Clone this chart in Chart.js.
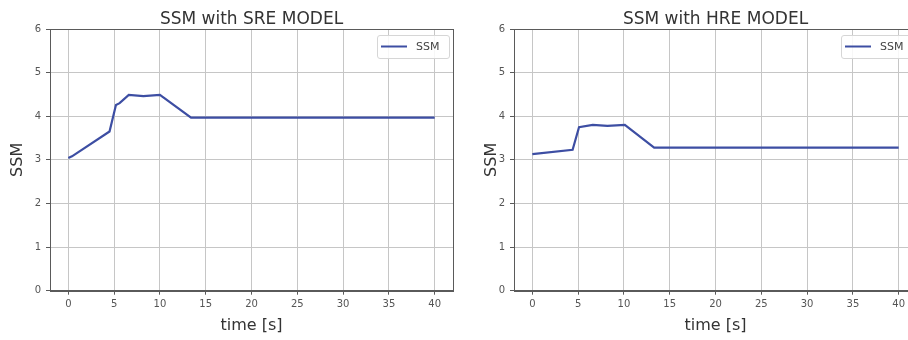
<!DOCTYPE html>
<html>
<head>
<meta charset="utf-8">
<script src="https://cdn.jsdelivr.net/npm/chart.js@4/dist/chart.umd.min.js"></script>
<style>
  html, body { margin: 0; padding: 0; width: 908px; height: 340px; overflow: hidden; background: #fff; }
  canvas { position: absolute; top: 0; }
  #c1 { left: 0; }
  #c2 { left: 464px; }
</style>
</head>
<body>
<canvas id="c1" width="460" height="340"></canvas>
<canvas id="c2" width="453" height="340"></canvas>
<script>
// SSM over time for the two models
const sreTime = [0, 0.4, 4.5, 5.2, 5.6, 6.6, 8.2, 10.0, 13.4, 40];
const sreSSM  = [3.04, 3.08, 3.65, 4.26, 4.30, 4.49, 4.46, 4.49, 3.97, 3.97];

const hreTime = [0, 4.4, 5.1, 6.6, 8.2, 10.1, 13.3, 40];
const hreSSM  = [3.13, 3.23, 3.75, 3.80, 3.78, 3.80, 3.28, 3.28];

const xTicks = [0, 5, 10, 15, 20, 25, 30, 35, 40];
const yTicks = [0, 1, 2, 3, 4, 5, 6];

const LINE = '#3d4ea3';
const GRID = '#c6c6c6';
const SPINE = '#5a5a5a';
const FONT = "'DejaVu Sans', sans-serif";

// frame, title and in-plot legend
const panelDecor = {
  id: 'panelDecor',
  afterDraw(chart, args, opts) {
    const { ctx, chartArea: a } = chart;
    ctx.save();
    // spines on all four sides
    ctx.strokeStyle = SPINE;
    ctx.lineWidth = 1;
    ctx.strokeRect(Math.round(a.left) + 0.5, Math.round(a.top) + 0.5,
                   Math.round(a.right - a.left), Math.round(a.bottom - a.top));
    // title
    ctx.fillStyle = '#333';
    ctx.font = '17px ' + FONT;
    ctx.textAlign = 'center';
    ctx.textBaseline = 'alphabetic';
    ctx.fillText(opts.title, (a.left + a.right) / 2, 24);
    // legend box
    const bw = 72, bh = 23;
    const bx = a.right - 4 - bw, by = a.top + 6;
    ctx.fillStyle = 'rgba(255,255,255,0.85)';
    ctx.strokeStyle = '#d6d6d6';
    ctx.beginPath();
    ctx.roundRect(bx + 0.5, by + 0.5, bw, bh, 2.5);
    ctx.fill();
    ctx.stroke();
    ctx.strokeStyle = LINE;
    ctx.lineWidth = 2;
    ctx.beginPath();
    ctx.moveTo(bx + 4, by + bh / 2);
    ctx.lineTo(bx + 30, by + bh / 2);
    ctx.stroke();
    ctx.fillStyle = '#444';
    ctx.font = '11px ' + FONT;
    ctx.textAlign = 'left';
    ctx.textBaseline = 'middle';
    ctx.fillText(chart.data.datasets[0].label, bx + 39, by + bh / 2 + 0.5);
    ctx.restore();
  }
};

function makeChart(id, title, xs, ys, yTitlePad) {
  const pts = xs.map((x, i) => ({ x: x, y: ys[i] }));
  return new Chart(document.getElementById(id), {
    type: 'line',
    data: {
      datasets: [{
        label: 'SSM',
        data: pts,
        borderColor: LINE,
        borderWidth: 2.2,
        pointRadius: 0,
        tension: 0,
        fill: false
      }]
    },
    options: {
      responsive: false,
      animation: false,
      events: [],
      layout: { padding: { top: 29, right: id === 'c1' ? 7 : 0, left: 0, bottom: 0 } },
      plugins: {
        legend: { display: false },
        title: { display: false },
        tooltip: { enabled: false },
        panelDecor: { title: title }
      },
      scales: {
        x: {
          type: 'linear',
          min: -2, max: 42,
          afterBuildTicks: s => { s.ticks = xTicks.map(v => ({ value: v })); },
          afterFit: s => { s.height = 49.3; },
          grid: { color: GRID, lineWidth: 1, tickLength: 4, tickColor: SPINE },
          border: { color: SPINE, width: 1 },
          ticks: { color: '#555', font: { family: FONT, size: 10 }, padding: 4, maxRotation: 0 },
          title: { display: true, text: 'time [s]', color: '#333',
                   font: { family: FONT, size: 16 }, padding: { bottom: 5, top: 0 } }
        },
        y: {
          type: 'linear',
          min: 0, max: 6,
          afterBuildTicks: s => { s.ticks = yTicks.map(v => ({ value: v })); },
          afterFit: s => { s.width = 50; },
          grid: { color: GRID, lineWidth: 1, tickLength: 4, tickColor: SPINE },
          border: { color: SPINE, width: 1 },
          ticks: { color: '#555', font: { family: FONT, size: 10 }, padding: 5 },
          title: { display: true, text: 'SSM', color: '#333',
                   font: { family: FONT, size: 16 }, padding: { top: yTitlePad, bottom: 0 } }
        }
      }
    },
    plugins: [panelDecor]
  });
}

makeChart('c1', 'SSM with SRE MODEL', sreTime, sreSSM, 8);
makeChart('c2', 'SSM with HRE MODEL', hreTime, hreSSM, 18);
</script>
</body>
</html>
